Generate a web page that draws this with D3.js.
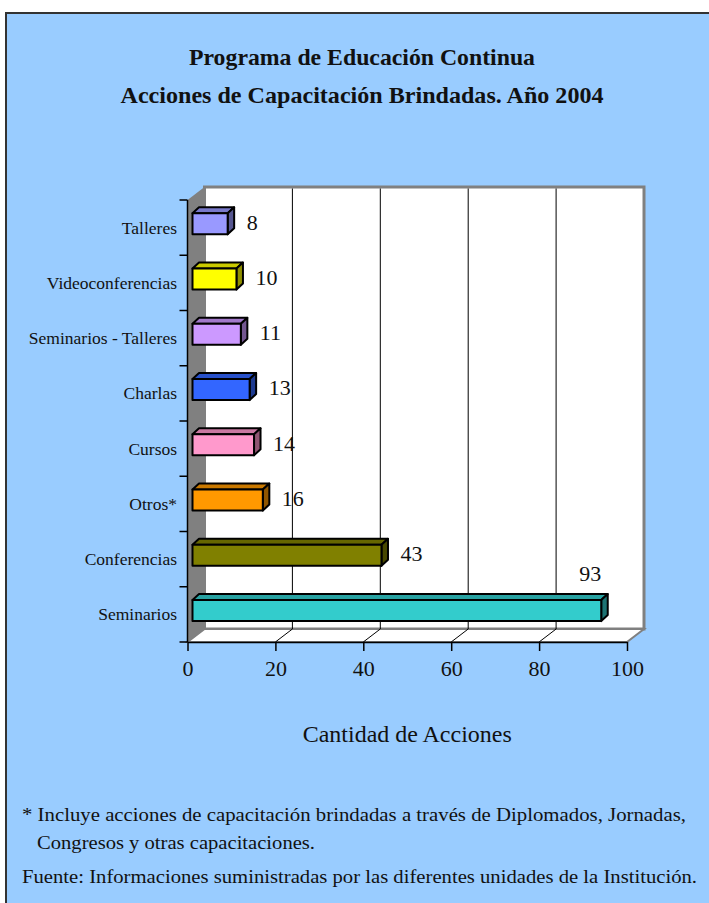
<!DOCTYPE html>
<html>
<head>
<meta charset="utf-8">
<script src="https://cdn.jsdelivr.net/npm/d3@7"></script>
<style>
body { margin: 0; background: #ffffff; }
text { font-family: "Liberation Serif", "Times New Roman", serif; fill: #111; }
</style>
</head>
<body>
<svg id="chart" width="709" height="903"></svg>
<script>
// data
var categories = ["Talleres", "Videoconferencias", "Seminarios - Talleres", "Charlas", "Cursos", "Otros*", "Conferencias", "Seminarios"];
var values = [8, 10, 11, 13, 14, 16, 43, 93];
var colors = ["#9999FF", "#FFFF00", "#CC99FF", "#3366FF", "#FF99CC", "#FF9900", "#808000", "#33CCCC"];
var xTicks = [0, 20, 40, 60, 80, 100];
var titleLines = ["Programa de Educación Continua", "Acciones de Capacitación Brindadas. Año 2004"];
var axisTitle = "Cantidad de Acciones";
var notes = ["*  Incluye acciones de capacitación brindadas a través de Diplomados, Jornadas,",
             "Congresos y otras capacitaciones.",
             "Fuente: Informaciones suministradas por las diferentes unidades de la Institución."];

var svg = d3.select("#chart");

// depth of the 3d box
var DX = 17, DY = -13;
// bar placement inside the depth
var BX = 5, BY = -3.8, BDX = 6.5, BDY = -6;

var x = d3.scaleLinear().domain([0, 100]).range([187.5, 627]);
var y = d3.scaleBand().domain(categories).range([200, 642]).paddingInner(0);

var x0 = x(0), x1 = x(100), yTop = 200, yBot = 642;

// background panel
svg.append("rect")
	.attr("x", 6).attr("y", 13)
	.attr("width", 720).attr("height", 900)
	.attr("fill", "#99CCFF")
	.attr("stroke", "#333").attr("stroke-width", 2);

// titles
titleLines.forEach(function(t, i) {
	svg.append("text")
		.attr("x", 362).attr("y", 65 + i * 38)
		.attr("text-anchor", "middle")
		.attr("font-size", 23.5).attr("font-weight", "bold")
		.attr("textLength", i == 0 ? 346 : 483).attr("lengthAdjust", "spacingAndGlyphs")
		.text(t);
});

// back wall
svg.append("rect")
	.attr("x", x0 + DX).attr("y", yTop + DY)
	.attr("width", x1 - x0).attr("height", yBot - yTop)
	.attr("fill", "#fff")
	.attr("stroke", "#808080").attr("stroke-width", 3);

// floor
svg.append("path")
	.attr("d", d3.line()([[x0, yBot], [x1, yBot], [x1 + DX, yBot + DY], [x0 + DX, yBot + DY]]) + "Z")
	.attr("fill", "#fff")
	.attr("stroke", "#808080").attr("stroke-width", 2);

// left wall
svg.append("path")
	.attr("d", d3.line()([[x0, yTop], [x0 + DX, yTop + DY], [x0 + DX, yBot + DY], [x0, yBot]]) + "Z")
	.attr("fill", "#808080");

// gridlines on wall and floor
var inner = xTicks.filter(function(d) { return d > 0 && d < 100; });
svg.selectAll("line.grid")
	.data(inner)
	.enter().append("line")
	.attr("class", "grid")
	.attr("x1", function(d) { return x(d) + DX; })
	.attr("x2", function(d) { return x(d) + DX; })
	.attr("y1", yTop + DY + 1.5)
	.attr("y2", yBot + DY)
	.attr("stroke", "#000").attr("stroke-width", 1);
svg.selectAll("line.floor")
	.data(inner)
	.enter().append("line")
	.attr("class", "floor")
	.attr("x1", function(d) { return x(d); })
	.attr("x2", function(d) { return x(d) + DX; })
	.attr("y1", yBot)
	.attr("y2", yBot + DY)
	.attr("stroke", "#000").attr("stroke-width", 1);

// bars, drawn as front / top / side faces
var bars = svg.selectAll("g.bar")
	.data(values)
	.enter().append("g")
	.attr("class", "bar");

var bh = y.bandwidth() * 0.38;
function face(d, i, which)
{
	var cy = y(categories[i]) + y.bandwidth() / 2 + BY;
	var l = x(0) + BX, r = x(d) + BX, t = cy - bh / 2, b = cy + bh / 2;
	if(which == "front") return [[l, t], [r, t], [r, b], [l, b]];
	if(which == "top") return [[l, t], [l + BDX, t + BDY], [r + BDX, t + BDY], [r, t]];
	return [[r, t], [r + BDX, t + BDY], [r + BDX, b + BDY], [r, b]];
}
[["top", 0.65], ["side", 1.6], ["front", 0]].forEach(function(f) {
	bars.append("path")
		.attr("d", function(d, i) { return d3.line()(face(d, i, f[0])) + "Z"; })
		.attr("fill", function(d, i) { return f[1] ? d3.color(colors[i]).darker(f[1]) : colors[i]; })
		.attr("stroke", "#000").attr("stroke-width", 2)
		.attr("stroke-linejoin", "round");
});

// value labels: to the right of the bar, or above its end when there is no room
function noRoom(d) { return x(d) + 48 > x1 + DX; }
bars.append("text")
	.attr("font-size", 22)
	.attr("x", function(d) { return noRoom(d) ? x(d) - 17 : x(d) + 24; })
	.attr("y", function(d, i) {
		var c = y(categories[i]) + y.bandwidth() / 2;
		return noRoom(d) ? c - 33 : c + 2;
	})
	.text(function(d) { return d; });

// y axis
svg.append("line")
	.attr("x1", x0).attr("x2", x0).attr("y1", yTop).attr("y2", yBot)
	.attr("stroke", "#000").attr("stroke-width", 1.5);
var yEdges = categories.map(function(c) { return y(c); }).concat([yBot]);
svg.selectAll("line.ytick")
	.data(yEdges)
	.enter().append("line")
	.attr("x1", x0 - 8).attr("x2", x0)
	.attr("y1", function(d) { return d; }).attr("y2", function(d) { return d; })
	.attr("stroke", "#000").attr("stroke-width", 1.5);
svg.selectAll("text.cat")
	.data(categories)
	.enter().append("text")
	.attr("class", "cat")
	.attr("x", 177)
	.attr("y", function(d) { return y(d) + y.bandwidth() / 2 + 6; })
	.attr("text-anchor", "end")
	.attr("font-size", 17.5)
	.text(function(d) { return d; });

// x axis
var xAxis = d3.axisBottom(x).tickValues(xTicks).tickSize(9).tickSizeOuter(0).tickPadding(9);
var gx = svg.append("g")
	.attr("transform", "translate(0," + yBot + ")")
	.call(xAxis);
gx.select(".domain").attr("stroke", "#000").attr("stroke-width", 1.5);
gx.selectAll(".tick line").attr("stroke", "#000").attr("stroke-width", 1.5);
gx.selectAll(".tick text")
	.attr("font-family", "Liberation Serif, serif")
	.attr("font-size", 22)
	.attr("fill", "#111");

svg.append("text")
	.attr("x", (x0 + x1) / 2).attr("y", 742)
	.attr("text-anchor", "middle")
	.attr("font-size", 23)
	.attr("textLength", 209).attr("lengthAdjust", "spacingAndGlyphs")
	.text(axisTitle);

// footnotes
var noteX = [22, 37, 22], noteY = [821, 849, 883], noteW = [664, 278, 675];
notes.forEach(function(n, i) {
	svg.append("text")
		.attr("x", noteX[i]).attr("y", noteY[i])
		.attr("font-size", 18.5)
		.attr("textLength", noteW[i]).attr("lengthAdjust", "spacingAndGlyphs")
		.text(n);
});
</script>
</body>
</html>
